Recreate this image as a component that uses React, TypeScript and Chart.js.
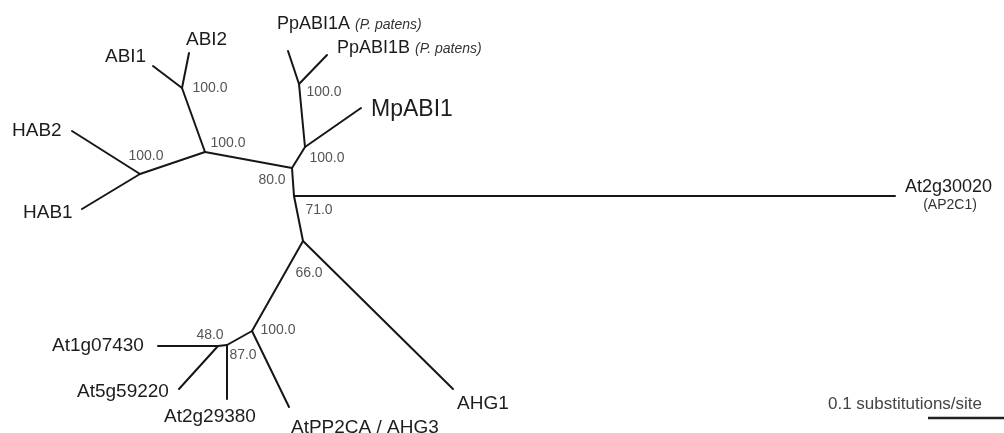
import React, { useEffect, useRef } from "react";
import { Chart, registerables } from "chart.js";

Chart.register(...registerables);

// Tree layout (node positions in layout units, y grows downward)
const nodeNames = [
  "A", "ABI1", "ABI2", "B", "C", "HAB2", "HAB1", "D", "E", "F",
  "PpABI1A", "PpABI1B", "MpABI1", "H", "At2g30020", "G", "AHG1", "I",
  "AtPP2CA", "J2", "J1", "At1g07430", "At5g59220", "At2g29380",
];
const nodeX = [182, 153, 189, 205, 140, 72, 82, 292, 305, 299, 288, 327, 361, 294, 895, 303, 453, 252, 289, 227, 218, 158, 179, 227];
const nodeY = [88, 66, 53, 152, 174, 131, 209, 168, 147, 84, 51, 55, 108, 196, 196, 241, 389, 331, 407, 345, 346, 346, 389, 399];

// Branches (parent -> child)
const edgeFrom = ["A", "A", "A", "B", "C", "C", "B", "D", "E", "F", "F", "E", "D", "H", "H", "G", "G", "I", "I", "J2", "J1", "J1", "J2"];
const edgeTo = ["ABI1", "ABI2", "B", "C", "HAB2", "HAB1", "D", "E", "F", "PpABI1A", "PpABI1B", "MpABI1", "H", "At2g30020", "G", "AHG1", "I", "AtPP2CA", "J2", "J1", "At1g07430", "At5g59220", "At2g29380"];

// Tip labels
const tipText = ["ABI1", "ABI2", "HAB2", "HAB1", "PpABI1A", "PpABI1B", "MpABI1", "At2g30020", "At1g07430", "At5g59220", "At2g29380", "AtPP2CA / AHG3", "AHG1"];
const tipSuffix = ["", "", "", "", "(P. patens)", "(P. patens)", "", "", "", "", "", "", ""];
const tipX = [105, 186, 12, 23, 277, 337, 371, 905, 52, 77, 164, 291, 457];
const tipY = [57, 40, 131, 213, 24, 48, 110, 187, 346, 392, 417, 428, 404];
const tipSize = [19, 19, 19, 19, 18, 18, 23, 18, 19, 19, 19, 19, 19];

// Sub label under At2g30020
const subText = ["(AP2C1)"];
const subX = [950];
const subY = [205];

// Bootstrap support values
const bootText = ["100.0", "100.0", "100.0", "100.0", "100.0", "80.0", "71.0", "66.0", "100.0", "48.0", "87.0"];
const bootX = [210, 228, 146, 324, 327, 272, 319, 309, 278, 210, 243];
const bootY = [88, 143, 156, 92, 158, 180, 210, 273, 330, 335, 355];

// Scale bar
const scaleBarX = [928, 1010];
const scaleBarY = [418, 418];
const scaleText = "0.1 substitutions/site";
const scaleTextX = 828;
const scaleTextY = 404;

const FONT = "'Liberation Sans', Arial, Helvetica, sans-serif";

const labelPlugin = {
  id: "treeLabels",
  afterDatasetsDraw(chart: any) {
    const ctx = chart.ctx;
    const xs = chart.scales.x;
    const ys = chart.scales.y;
    ctx.save();
    ctx.textBaseline = "middle";
    ctx.textAlign = "left";
    // tips
    tipText.forEach((t, i) => {
      const px = xs.getPixelForValue(tipX[i]);
      const py = ys.getPixelForValue(tipY[i]);
      ctx.font = `${tipSize[i]}px ${FONT}`;
      ctx.fillStyle = "#1c1c1c";
      ctx.fillText(t, px, py);
      if (tipSuffix[i]) {
        const w = ctx.measureText(t + " ").width;
        ctx.font = `italic 14px ${FONT}`;
        ctx.fillStyle = "#333";
        ctx.fillText(tipSuffix[i], px + w, py + 1);
      }
    });
    // sub labels
    ctx.textAlign = "center";
    subText.forEach((t, i) => {
      ctx.font = `14px ${FONT}`;
      ctx.fillStyle = "#333";
      ctx.fillText(t, xs.getPixelForValue(subX[i]), ys.getPixelForValue(subY[i]));
    });
    // bootstrap
    bootText.forEach((t, i) => {
      ctx.font = `14px ${FONT}`;
      ctx.fillStyle = "#555";
      ctx.fillText(t, xs.getPixelForValue(bootX[i]), ys.getPixelForValue(bootY[i]));
    });
    // scale text
    ctx.textAlign = "left";
    ctx.font = `17px ${FONT}`;
    ctx.fillStyle = "#444";
    ctx.fillText(scaleText, xs.getPixelForValue(scaleTextX), ys.getPixelForValue(scaleTextY));
    ctx.restore();
  },
};

export default function App() {
  const ref = useRef<HTMLCanvasElement | null>(null);
  useEffect(() => {
    if (!ref.current) return;
    const idx = (n: string) => nodeNames.indexOf(n);
    const datasets: any[] = edgeFrom.map((f, i) => {
      const a = idx(f);
      const b = idx(edgeTo[i]);
      return {
        label: `${f}-${edgeTo[i]}`,
        data: [
          { x: nodeX[a], y: nodeY[a] },
          { x: nodeX[b], y: nodeY[b] },
        ],
        showLine: true,
        borderColor: "#161616",
        borderWidth: 2,
        pointRadius: 0,
        borderCapStyle: "round",
      };
    });
    datasets.push({
      label: "scale",
      data: scaleBarX.map((x, i) => ({ x, y: scaleBarY[i] })),
      showLine: true,
      borderColor: "#222",
      borderWidth: 2.5,
      pointRadius: 0,
    });
    const chart = new Chart(ref.current, {
      type: "scatter",
      data: { datasets },
      options: {
        animation: false,
        responsive: false,
        maintainAspectRatio: false,
        layout: { padding: 0 },
        plugins: { legend: { display: false }, tooltip: { enabled: false } },
        scales: {
          x: { type: "linear", min: 0, max: 1004, display: false },
          y: { type: "linear", min: 0, max: 433, reverse: true, display: false },
        },
      },
      plugins: [labelPlugin],
    });
    return () => chart.destroy();
  }, []);
  return (
    <div style={{ position: "absolute", left: 0, top: 0, width: 1004, height: 433, background: "#fff" }}>
      <canvas ref={ref} width={1004} height={433} style={{ display: "block" }} />
    </div>
  );
}
